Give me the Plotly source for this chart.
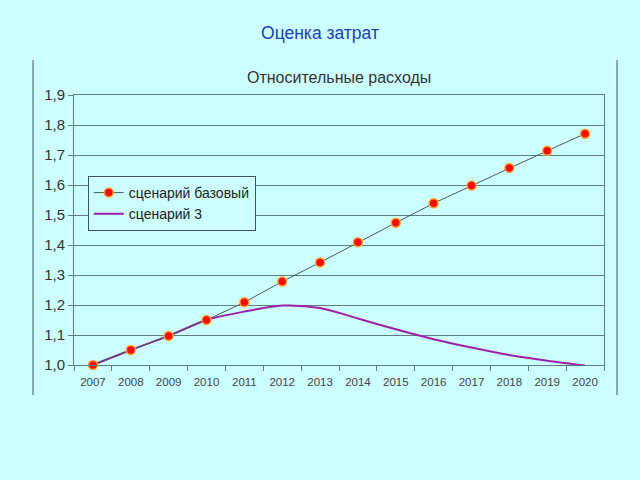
import plotly.graph_objects as go

years = ["2007", "2008", "2009", "2010", "2011", "2012", "2013",
         "2014", "2015", "2016", "2017", "2018", "2019", "2020"]
base = [1.0, 1.05, 1.097, 1.15, 1.209, 1.278, 1.342,
        1.409, 1.474, 1.539, 1.598, 1.657, 1.714, 1.771]
scen3 = [1.0, 1.05, 1.097, 1.15, 1.178, 1.198, 1.19,
         1.155, 1.119, 1.086, 1.058, 1.033, 1.014, 0.998]
y_ticks = [1.0, 1.1, 1.2, 1.3, 1.4, 1.5, 1.6, 1.7, 1.8, 1.9]

bg = "#CCFFFF"
axis_col = "#5F7F7F"
font_fam = "Liberation Sans, Arial, sans-serif"

fig = go.Figure()
fig.add_trace(go.Scatter(
    x=years, y=scen3, mode="lines", name="сценарий 3",
    line=dict(color="#A020A8", width=2, shape="spline", smoothing=0.8),
    cliponaxis=False,
))
fig.add_trace(go.Scatter(
    x=years, y=base, mode="lines+markers", name="сценарий базовый",
    line=dict(color="#4A5A5A", width=1),
    marker=dict(color="#EE1100", size=9, line=dict(color="#FFA030", width=1.5)),
    cliponaxis=False,
))

fig.update_layout(
    width=640, height=480,
    paper_bgcolor=bg, plot_bgcolor=bg,
    margin=dict(l=74, r=36, t=95, b=115),
    separators=", ",
    showlegend=True,
    font=dict(family=font_fam, color="#333333"),
    title=dict(text="Оценка затрат", x=0.5, xanchor="center", y=1 - 33 / 480,
               yanchor="middle", font=dict(size=17.5, color="#2040B0", family=font_fam)),
    legend=dict(x=0.026, y=0.70, xanchor="left", yanchor="top",
                bgcolor=bg, bordercolor="#445555", borderwidth=1,
                font=dict(size=14, color="#222222"), traceorder="reversed",
                itemwidth=30, tracegroupgap=0),
    xaxis=dict(type="category", range=[-0.5, 13.5], showgrid=False,
               showline=True, linecolor=axis_col, linewidth=1, mirror=True,
               ticks="outside", tickson="boundaries", ticklen=5, tickcolor=axis_col,
               ticklabelstandoff=6,
               tickfont=dict(size=11.5, color="#444444")),
    yaxis=dict(range=[1.0, 1.9], tickvals=y_ticks, tickformat=".1f",
               showgrid=True, gridcolor=axis_col, gridwidth=1,
               showline=True, linecolor=axis_col, linewidth=1, mirror=True,
               ticks="outside", ticklen=5, tickcolor=axis_col, zeroline=False,
               tickfont=dict(size=15, color="#333333")),
    annotations=[dict(text="Относительные расходы", xref="paper", yref="paper",
                      x=0.5, y=(365 - 77) / 270, xanchor="center", yanchor="middle",
                      showarrow=False, font=dict(size=16, color="#333333"))],
    shapes=[
        dict(type="line", xref="paper", yref="paper", x0=(33 - 74) / 530, x1=(33 - 74) / 530,
             y0=(365 - 395) / 270, y1=(365 - 60) / 270, line=dict(color="#445555", width=1)),
        dict(type="line", xref="paper", yref="paper", x0=(617 - 74) / 530, x1=(617 - 74) / 530,
             y0=(365 - 395) / 270, y1=(365 - 60) / 270, line=dict(color="#445555", width=1)),
    ],
)

fig.write_html("out.html")
